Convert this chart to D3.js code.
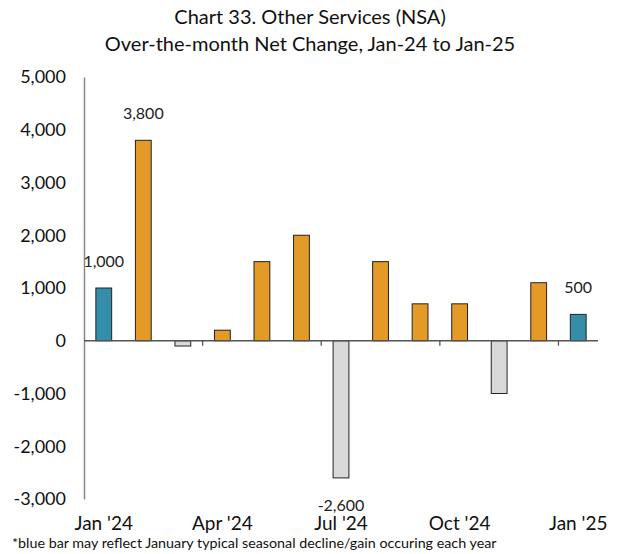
<!DOCTYPE html>
<html><head><meta charset="utf-8">
<script src="https://cdn.jsdelivr.net/npm/d3@7"></script>
<style>body{margin:0;background:#fff;}svg{display:block;font-family:"Lato","Open Sans",sans-serif;}</style>
</head><body>
<svg id="chart" width="620" height="554"></svg>
<script>
const months = ["Jan '24","Feb '24","Mar '24","Apr '24","May '24","Jun '24","Jul '24","Aug '24","Sep '24","Oct '24","Nov '24","Dec '24","Jan '25"];
const values = [1000,3800,-100,200,1500,2000,-2600,1500,700,700,-1000,1100,500];
const colorKinds = ["jan","pos","neg","pos","pos","pos","neg","pos","pos","pos","neg","pos","jan"];
const labeled = ["Jan '24","Feb '24","Jul '24","Jan '25"];
const shownTicks = ["Jan '24","Apr '24","Jul '24","Oct '24","Jan '25"];
const yTicks = [-3000,-2000,-1000,0,1000,2000,3000,4000,5000];
const titleLines = ["Chart 33. Other Services (NSA)","Over-the-month Net Change, Jan-24 to Jan-25"];
const footnote = "*blue bar may reflect January typical seasonal decline/gain occuring each year";
const palette = {jan:"#358EA9", pos:"#E39A27", neg:"#D9D9D9"};

(function(){
const svg = d3.select("#chart");
const pL = 84, pR = 598, pT = 77, pB = 499;
const x = d3.scaleBand().domain(months).range([pL,pR]).paddingInner(0.6).paddingOuter(0.3);
const y = d3.scaleLinear().domain([-3000,5000]).range([pB,pT]);
const f0 = d3.format(",");
const fmt = v => f0(v).replace("\u2212","-");

svg.append("g").selectAll("text").data(titleLines).join("text")
  .attr("x",310).attr("y",(d,i)=>24+i*27).attr("text-anchor","middle")
  .attr("font-size",20).attr("fill","#111").text(d=>d);

const yAxis = d3.axisLeft(y).tickValues(yTicks).tickFormat(fmt).tickSize(0).tickPadding(18);
const gy = svg.append("g").attr("transform",`translate(${pL},0)`).call(yAxis);
gy.select(".domain").attr("stroke","#888").attr("stroke-width",1.5);
gy.selectAll("text").attr("font-size",18).attr("fill","#111").attr("font-family","Lato,sans-serif");

svg.append("g").selectAll("rect").data(values).join("rect")
  .attr("x",(d,i)=>x(months[i])).attr("width",x.bandwidth())
  .attr("y",d=>y(Math.max(0,d))).attr("height",d=>Math.abs(y(d)-y(0)))
  .attr("fill",(d,i)=>palette[colorKinds[i]]).attr("stroke","#222").attr("stroke-width",1);

const gx = svg.append("g").attr("transform",`translate(0,${y(0)})`);
gx.append("line").attr("x1",pL).attr("x2",pR).attr("stroke","#555").attr("stroke-width",1.3);
const step = x.step();
const tickXs = [3,6,9,12].map(k=>x(months[k]) - step*x.paddingInner()/2);
gx.selectAll("line.tk").data(tickXs).join("line").attr("class","tk")
  .attr("x1",d=>d).attr("x2",d=>d).attr("y1",0).attr("y2",5).attr("stroke","#555").attr("stroke-width",1.3);

svg.append("g").selectAll("text").data(shownTicks).join("text")
  .attr("x",d=>x(d)+x.bandwidth()/2).attr("y",530).attr("text-anchor","middle")
  .attr("font-size",19).attr("fill","#111").text(d=>d);

svg.append("g").selectAll("text").data(months.map((m,i)=>({m,v:values[i]})).filter(d=>labeled.includes(d.m))).join("text")
  .attr("x",d=>x(d.m)+x.bandwidth()/2)
  .attr("y",d=>d.v>=0 ? y(d.v)-21 : y(d.v)+33)
  .attr("text-anchor","middle").attr("font-size",16).attr("fill","#222").text(d=>fmt(d.v));

svg.append("text").attr("x",12).attr("y",548).attr("font-size",14.3).attr("fill","#111").text(footnote);
})();
</script>
</body></html>
